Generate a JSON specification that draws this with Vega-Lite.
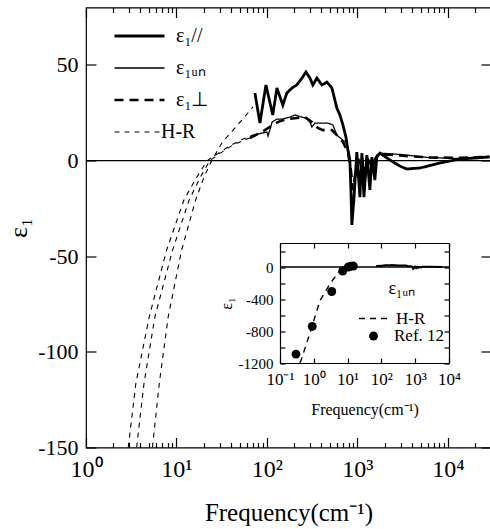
{
  "$schema": "https://vega.github.io/schema/vega-lite/v6.json",
  "width": 405,
  "height": 440,
  "autosize": {"type": "none"},
  "padding": {"left": 86, "top": 7.5, "right": 0, "bottom": 81.5},
  "background": "white",
  "config": {
    "font": "Liberation Serif",
    "view": {"stroke": "black", "strokeWidth": 1.2},
    "axis": {"grid": false, "domainColor": "black", "tickColor": "black", "labelColor": "black", "titleColor": "black", "labelFont": "Liberation Serif", "titleFont": "Liberation Serif", "titleFontWeight": "normal", "domainWidth": 1.2, "tickWidth": 1.2, "labelOverlap": false, "labelFlush": false},
    "legend": {"labelFont": "Liberation Serif", "labelColor": "black", "padding": 0}
  },
  "datasets": {
    "main": [
      {"s": "ε₁//", "c": "par", "f": 73.7, "e": 35.3},
      {"s": "ε₁//", "c": "par", "f": 83.7, "e": 19.6},
      {"s": "ε₁//", "c": "par", "f": 97.5, "e": 39.5},
      {"s": "ε₁//", "c": "par", "f": 116, "e": 23.8},
      {"s": "ε₁//", "c": "par", "f": 129, "e": 37.9},
      {"s": "ε₁//", "c": "par", "f": 150, "e": 29},
      {"s": "ε₁//", "c": "par", "f": 166, "e": 35.3},
      {"s": "ε₁//", "c": "par", "f": 189, "e": 37.9},
      {"s": "ε₁//", "c": "par", "f": 214, "e": 39.5},
      {"s": "ε₁//", "c": "par", "f": 244, "e": 43.1},
      {"s": "ε₁//", "c": "par", "f": 270, "e": 46.3},
      {"s": "ε₁//", "c": "par", "f": 299, "e": 43.1},
      {"s": "ε₁//", "c": "par", "f": 322, "e": 39.5},
      {"s": "ε₁//", "c": "par", "f": 357, "e": 43.1},
      {"s": "ε₁//", "c": "par", "f": 405, "e": 39.5},
      {"s": "ε₁//", "c": "par", "f": 460, "e": 41},
      {"s": "ε₁//", "c": "par", "f": 523, "e": 37.9},
      {"s": "ε₁//", "c": "par", "f": 564, "e": 31.6},
      {"s": "ε₁//", "c": "par", "f": 593, "e": 27.4},
      {"s": "ε₁//", "c": "par", "f": 641, "e": 23.8},
      {"s": "ε₁//", "c": "par", "f": 692, "e": 18.6},
      {"s": "ε₁//", "c": "par", "f": 747, "e": 12.3},
      {"s": "ε₁//", "c": "par", "f": 786, "e": 5.5},
      {"s": "ε₁//", "c": "par", "f": 826, "e": 0.3},
      {"s": "ε₁//", "c": "par", "f": 848, "e": -15.4},
      {"s": "ε₁//", "c": "par", "f": 869, "e": -33.7},
      {"s": "ε₁//", "c": "par", "f": 914, "e": -20.6},
      {"s": "ε₁//", "c": "par", "f": 986, "e": 4.4},
      {"s": "ε₁//", "c": "par", "f": 1066, "e": -19.1},
      {"s": "ε₁//", "c": "par", "f": 1122, "e": 3.9},
      {"s": "ε₁//", "c": "par", "f": 1181, "e": -19.1},
      {"s": "ε₁//", "c": "par", "f": 1274, "e": 2.9},
      {"s": "ε₁//", "c": "par", "f": 1375, "e": -15.4},
      {"s": "ε₁//", "c": "par", "f": 1445, "e": 1.8},
      {"s": "ε₁//", "c": "par", "f": 1560, "e": -10.2},
      {"s": "ε₁//", "c": "par", "f": 1641, "e": 1.8},
      {"s": "ε₁//", "c": "par", "f": 1774, "e": 3.9},
      {"s": "ε₁//", "c": "par", "f": 2290, "e": 0.3},
      {"s": "ε₁//", "c": "par", "f": 2950, "e": -2.9},
      {"s": "ε₁//", "c": "par", "f": 3520, "e": -4.4},
      {"s": "ε₁//", "c": "par", "f": 4900, "e": -3.9},
      {"s": "ε₁//", "c": "par", "f": 8130, "e": -1.3},
      {"s": "ε₁//", "c": "par", "f": 13580, "e": 0.8},
      {"s": "ε₁//", "c": "par", "f": 28800, "e": 1.8},

      {"s": "ε₁ᵤₙ", "c": "un", "f": 70, "e": 13.3},
      {"s": "ε₁ᵤₙ", "c": "un", "f": 100, "e": 14.9},
      {"s": "ε₁ᵤₙ", "c": "un", "f": 103, "e": 12.8},
      {"s": "ε₁ᵤₙ", "c": "un", "f": 114, "e": 20.1},
      {"s": "ε₁ᵤₙ", "c": "un", "f": 129, "e": 21.7},
      {"s": "ε₁ᵤₙ", "c": "un", "f": 150, "e": 21.7},
      {"s": "ε₁ᵤₙ", "c": "un", "f": 180, "e": 22.7},
      {"s": "ε₁ᵤₙ", "c": "un", "f": 204, "e": 23.8},
      {"s": "ε₁ᵤₙ", "c": "un", "f": 244, "e": 22.7},
      {"s": "ε₁ᵤₙ", "c": "un", "f": 277, "e": 22.2},
      {"s": "ε₁ᵤₙ", "c": "un", "f": 299, "e": 20.1},
      {"s": "ε₁ᵤₙ", "c": "un", "f": 314, "e": 17.5},
      {"s": "ε₁ᵤₙ", "c": "un", "f": 339, "e": 19.6},
      {"s": "ε₁ᵤₙ", "c": "un", "f": 472, "e": 19.6},
      {"s": "ε₁ᵤₙ", "c": "un", "f": 536, "e": 18.6},
      {"s": "ε₁ᵤₙ", "c": "un", "f": 593, "e": 13.3},
      {"s": "ε₁ᵤₙ", "c": "un", "f": 692, "e": 10.7},
      {"s": "ε₁ᵤₙ", "c": "un", "f": 747, "e": 9.7},
      {"s": "ε₁ᵤₙ", "c": "un", "f": 786, "e": 6.5},
      {"s": "ε₁ᵤₙ", "c": "un", "f": 826, "e": -2.4},
      {"s": "ε₁ᵤₙ", "c": "un", "f": 869, "e": -23.3},
      {"s": "ε₁ᵤₙ", "c": "un", "f": 938, "e": -12.8},
      {"s": "ε₁ᵤₙ", "c": "un", "f": 986, "e": 2.9},
      {"s": "ε₁ᵤₙ", "c": "un", "f": 1066, "e": -12.8},
      {"s": "ε₁ᵤₙ", "c": "un", "f": 1146, "e": 1.3},
      {"s": "ε₁ᵤₙ", "c": "un", "f": 1220, "e": -10.2},
      {"s": "ε₁ᵤₙ", "c": "un", "f": 1310, "e": 0.3},
      {"s": "ε₁ᵤₙ", "c": "un", "f": 1470, "e": -5},
      {"s": "ε₁ᵤₙ", "c": "un", "f": 1641, "e": 2.9},
      {"s": "ε₁ᵤₙ", "c": "un", "f": 1774, "e": 3.9},
      {"s": "ε₁ᵤₙ", "c": "un", "f": 2950, "e": 3.2},
      {"s": "ε₁ᵤₙ", "c": "un", "f": 6340, "e": 1.5},
      {"s": "ε₁ᵤₙ", "c": "un", "f": 13580, "e": 1.1},
      {"s": "ε₁ᵤₙ", "c": "un", "f": 28800, "e": 2.3},

      {"s": "ε₁⊥", "c": "perp", "f": 64.9, "e": 11.8},
      {"s": "ε₁⊥", "c": "perp", "f": 79.5, "e": 13.9},
      {"s": "ε₁⊥", "c": "perp", "f": 95, "e": 15.9},
      {"s": "ε₁⊥", "c": "perp", "f": 116, "e": 18.6},
      {"s": "ε₁⊥", "c": "perp", "f": 139, "e": 20.6},
      {"s": "ε₁⊥", "c": "perp", "f": 171, "e": 21.7},
      {"s": "ε₁⊥", "c": "perp", "f": 214, "e": 22.2},
      {"s": "ε₁⊥", "c": "perp", "f": 263, "e": 22.7},
      {"s": "ε₁⊥", "c": "perp", "f": 314, "e": 20.1},
      {"s": "ε₁⊥", "c": "perp", "f": 366, "e": 17},
      {"s": "ε₁⊥", "c": "perp", "f": 416, "e": 15.9},
      {"s": "ε₁⊥", "c": "perp", "f": 523, "e": 15.9},
      {"s": "ε₁⊥", "c": "perp", "f": 609, "e": 12.8},
      {"s": "ε₁⊥", "c": "perp", "f": 692, "e": 9.7},
      {"s": "ε₁⊥", "c": "perp", "f": 786, "e": 4.4},
      {"s": "ε₁⊥", "c": "perp", "f": 848, "e": -5},
      {"s": "ε₁⊥", "c": "perp", "f": 892, "e": -15.4},
      {"s": "ε₁⊥", "c": "perp", "f": 962, "e": -5},
      {"s": "ε₁⊥", "c": "perp", "f": 1042, "e": 2.3},
      {"s": "ε₁⊥", "c": "perp", "f": 1146, "e": -7.6},
      {"s": "ε₁⊥", "c": "perp", "f": 1274, "e": 1.3},
      {"s": "ε₁⊥", "c": "perp", "f": 1445, "e": -2.4},
      {"s": "ε₁⊥", "c": "perp", "f": 1641, "e": 2.3},
      {"s": "ε₁⊥", "c": "perp", "f": 1774, "e": 3.4},
      {"s": "ε₁⊥", "c": "perp", "f": 2950, "e": 2.6},
      {"s": "ε₁⊥", "c": "perp", "f": 6340, "e": 1.6},
      {"s": "ε₁⊥", "c": "perp", "f": 13580, "e": 1.4},
      {"s": "ε₁⊥", "c": "perp", "f": 28800, "e": 1.9},

      {"s": "H-R", "c": "hr1", "f": 2.93, "e": -150},
      {"s": "H-R", "c": "hr1", "f": 3.06, "e": -142.5},
      {"s": "H-R", "c": "hr1", "f": 3.56, "e": -116.4},
      {"s": "H-R", "c": "hr1", "f": 5.01, "e": -81.6},
      {"s": "H-R", "c": "hr1", "f": 7.78, "e": -46.8},
      {"s": "H-R", "c": "hr1", "f": 12.1, "e": -20.6},
      {"s": "H-R", "c": "hr1", "f": 16.6, "e": -9},
      {"s": "H-R", "c": "hr1", "f": 21.9, "e": 0},
      {"s": "H-R", "c": "hr1", "f": 29.5, "e": 4},
      {"s": "H-R", "c": "hr1", "f": 39.8, "e": 8},
      {"s": "H-R", "c": "hr1", "f": 56.2, "e": 11.5},
      {"s": "H-R", "c": "hr1", "f": 70, "e": 13.3},

      {"s": "H-R", "c": "hr2", "f": 3.63, "e": -150},
      {"s": "H-R", "c": "hr2", "f": 3.78, "e": -142.5},
      {"s": "H-R", "c": "hr2", "f": 4.38, "e": -116.4},
      {"s": "H-R", "c": "hr2", "f": 5.78, "e": -81.6},
      {"s": "H-R", "c": "hr2", "f": 9.06, "e": -46.8},
      {"s": "H-R", "c": "hr2", "f": 13.8, "e": -20.6},
      {"s": "H-R", "c": "hr2", "f": 18.2, "e": -9},
      {"s": "H-R", "c": "hr2", "f": 23.4, "e": 0},
      {"s": "H-R", "c": "hr2", "f": 30.9, "e": 4},
      {"s": "H-R", "c": "hr2", "f": 41.7, "e": 8},
      {"s": "H-R", "c": "hr2", "f": 57.5, "e": 11},
      {"s": "H-R", "c": "hr2", "f": 64.9, "e": 11.8},

      {"s": "H-R", "c": "hr3", "f": 5.42, "e": -150},
      {"s": "H-R", "c": "hr3", "f": 5.64, "e": -142.5},
      {"s": "H-R", "c": "hr3", "f": 6.46, "e": -116.4},
      {"s": "H-R", "c": "hr3", "f": 8.11, "e": -81.6},
      {"s": "H-R", "c": "hr3", "f": 11.4, "e": -46.8},
      {"s": "H-R", "c": "hr3", "f": 16.3, "e": -20.6},
      {"s": "H-R", "c": "hr3", "f": 20, "e": -9},
      {"s": "H-R", "c": "hr3", "f": 24.5, "e": 0},
      {"s": "H-R", "c": "hr3", "f": 32.4, "e": 9.8},
      {"s": "H-R", "c": "hr3", "f": 45.7, "e": 17.7},
      {"s": "H-R", "c": "hr3", "f": 58.9, "e": 23.8},
      {"s": "H-R", "c": "hr3", "f": 70, "e": 28}
    ],
    "insetHR": [
      {"s": "H-R", "f": 0.39, "e": -1200},
      {"s": "H-R", "f": 0.44, "e": -1142},
      {"s": "H-R", "f": 0.87, "e": -751},
      {"s": "H-R", "f": 1.52, "e": -421},
      {"s": "H-R", "f": 3.01, "e": -210},
      {"s": "H-R", "f": 5.3, "e": -70},
      {"s": "H-R", "f": 9.3, "e": -8},
      {"s": "H-R", "f": 14, "e": 0}
    ],
    "ref": [
      {"s": "Ref. 12", "f": 0.297, "e": -1089},
      {"s": "Ref. 12", "f": 0.9, "e": -743},
      {"s": "Ref. 12", "f": 3.39, "e": -306},
      {"s": "Ref. 12", "f": 7.16, "e": -50},
      {"s": "Ref. 12", "f": 10.5, "e": 0},
      {"s": "Ref. 12", "f": 12.5, "e": 10},
      {"s": "Ref. 12", "f": 14.8, "e": 12}
    ]
  },
  "layer": [
    {
      "layer": [
        {
          "data": {"values": [{}]},
          "mark": {"type": "rule", "color": "black", "strokeWidth": 1.2},
          "encoding": {
            "y": {"datum": 0, "type": "quantitative", "scale": {"domain": [-150, 80], "nice": false, "zero": false}}
          }
        },
        {
          "data": {"name": "main"},
          "mark": {"type": "line", "color": "black", "clip": true},
          "encoding": {
            "x": {"field": "f", "type": "quantitative",
              "scale": {"type": "log", "domain": [1, 30000], "nice": false},
              "axis": {"orient": "bottom", "domain": false, "ticks": false, "tickSize": 0,
                "values": [1, 10, 100, 1000, 10000],
                "labelExpr": "datum.value === 1 ? '10⁰' : datum.value === 10 ? '10¹' : datum.value === 100 ? '10²' : datum.value === 1000 ? '10³' : '10⁴'",
                "labelFont": "Liberation Serif", "labelFontSize": 24, "labelPadding": 10,
                "title": "Frequency(cm⁻¹)", "titleFontSize": 25, "titlePadding": 19}},
            "y": {"field": "e", "type": "quantitative",
              "scale": {"domain": [-150, 80], "nice": false, "zero": false},
              "axis": {"orient": "left", "domain": false, "ticks": false, "tickSize": 0, "values": [-150, -100, -50, 0, 50],
                "labelExpr": "'' + datum.value", "labelFont": "Liberation Serif", "labelFontSize": 22, "labelPadding": 8,
                "title": "ε₁", "titleFontSize": 26, "titlePadding": 6}},
            "detail": {"field": "c"},
            "strokeDash": {"field": "s", "type": "nominal",
              "scale": {"domain": ["ε₁//", "ε₁ᵤₙ", "ε₁⊥", "H-R"], "range": [[1, 0], [1, 0], [9, 6], [5, 5]]},
              "legend": {"orient": "none", "legendX": 27, "legendY": 15.5, "title": null, "symbolType": "stroke", "symbolSize": 2500, "symbolStrokeColor": "black", "labelFontSize": 20, "labelOffset": 10, "rowPadding": 6, "clipHeight": 26,
                "encoding": {
                  "symbols": {"strokeDash": {"value": {"expr": "datum.value === 'H-R' ? [7,5,7,5,7,300] : datum.value === 'ε₁⊥' ? [13,7] : [1,0]"}}},
                  "labels": {"dx": {"value": {"expr": "datum.value === 'H-R' ? -15 : 0"}}}
                }}},
            "strokeWidth": {"field": "s", "type": "nominal",
              "scale": {"type": "ordinal", "domain": ["ε₁//", "ε₁ᵤₙ", "ε₁⊥", "H-R"], "range": [2.8, 1.3, 2.6, 1.1]},
              "legend": {"orient": "none", "legendX": 27, "legendY": 15.5, "title": null, "symbolType": "stroke", "symbolSize": 2500, "symbolStrokeColor": "black", "labelFontSize": 20, "labelOffset": 10, "rowPadding": 6, "clipHeight": 26}}
          }
        }
      ]
    },
    {
      "data": {"values": [{}]},
      "mark": {"type": "point", "opacity": 0},
      "encoding": {
        "x": {"datum": 10, "type": "quantitative",
          "scale": {"type": "log", "domain": [1, 30000], "nice": false},
          "axis": {"orient": "top", "offset": -440, "domain": false, "labels": false, "title": null, "values": [1, 10, 100, 1000, 10000], "tickSize": 10}},
        "y": {"datum": 0, "type": "quantitative",
          "scale": {"domain": [-150, 80], "nice": false, "zero": false},
          "axis": {"orient": "right", "offset": -405, "domain": false, "labels": false, "title": null, "values": [-150, -100, -50, 0, 50], "tickSize": 10}}
      }
    },
    {
      "data": {"values": [{}]},
      "mark": {"type": "point", "opacity": 0},
      "encoding": {
        "x": {"datum": 10, "type": "quantitative",
          "scale": {"type": "log", "domain": [1, 30000], "nice": false},
          "axis": {"orient": "bottom", "offset": -440, "domain": false, "labels": false, "title": null, "values": [1, 10, 100, 1000, 10000], "tickSize": 10}},
        "y": {"datum": 0, "type": "quantitative",
          "scale": {"domain": [-150, 80], "nice": false, "zero": false},
          "axis": {"orient": "left", "offset": -405, "domain": false, "labels": false, "title": null, "values": [-150, -100, -50, 0, 50], "tickSize": 10}}
      }
    },
    {
      "data": {"values": [{}]},
      "mark": {"type": "point", "opacity": 0},
      "encoding": {
        "x": {"datum": 10, "type": "quantitative",
          "scale": {"type": "log", "domain": [1, 30000], "nice": false},
          "axis": {"orient": "top", "offset": -440, "domain": false, "labels": false, "title": null,
            "values": [2,3,4,5,6,7,8,9,20,30,40,50,60,70,80,90,200,300,400,500,600,700,800,900,2000,3000,4000,5000,6000,7000,8000,9000,20000,30000], "tickSize": 5}},
        "y": {"datum": 0, "type": "quantitative", "scale": {"domain": [-150, 80], "nice": false, "zero": false}, "axis": null}
      }
    },
    {
      "data": {"values": [{}]},
      "mark": {"type": "point", "opacity": 0},
      "encoding": {
        "x": {"datum": 10, "type": "quantitative",
          "scale": {"type": "log", "domain": [1, 30000], "nice": false},
          "axis": {"orient": "bottom", "offset": -440, "domain": false, "labels": false, "title": null,
            "values": [2,3,4,5,6,7,8,9,20,30,40,50,60,70,80,90,200,300,400,500,600,700,800,900,2000,3000,4000,5000,6000,7000,8000,9000,20000,30000], "tickSize": 5}},
        "y": {"datum": 0, "type": "quantitative", "scale": {"domain": [-150, 80], "nice": false, "zero": false}, "axis": null}
      }
    },
    {
      "layer": [
        {
          "data": {"values": [{}]},
          "mark": {"type": "rule", "color": "black", "strokeWidth": 1.3},
          "encoding": {
            "x": {"datum": 0.1, "type": "quantitative",
              "scale": {"type": "log", "domain": [0.1, 10000], "range": [194, 363], "nice": false},
              "axis": {"orient": "bottom", "offset": -84.5, "domain": true, "ticks": false, "tickSize": 0, "values": [0.1, 1, 10, 100, 1000, 10000],
                "labelExpr": "datum.value < 0.5 ? '10⁻¹' : datum.value === 1 ? '10⁰' : datum.value === 10 ? '10¹' : datum.value === 100 ? '10²' : datum.value === 1000 ? '10³' : '10⁴'",
                "labelFont": "Liberation Serif", "labelFontSize": 17, "labelPadding": 8, "title": "Frequency(cm⁻¹)", "titleFontSize": 16, "titlePadding": 14}},
            "x2": {"datum": 10000},
            "y": {"datum": 0, "type": "quantitative",
              "scale": {"domain": [-1200, 300], "range": [355.5, 235.5], "nice": false, "zero": false},
              "axis": {"orient": "left", "offset": -194, "domain": true, "ticks": false, "tickSize": 0, "values": [-1200, -800, -400, 0],
                "labelExpr": "'' + datum.value", "labelFont": "Liberation Serif",
                "labelFontSize": 15, "labelPadding": 7, "title": "ε₁", "titleFontSize": 16, "titlePadding": 4}}
          }
        },
        {
          "data": {"name": "main"},
          "transform": [{"filter": "datum.s === 'ε₁ᵤₙ' && datum.f <= 10000"}],
          "mark": {"type": "line", "color": "black", "strokeWidth": 2},
          "encoding": {
            "x": {"field": "f", "type": "quantitative", "scale": {"type": "log", "domain": [0.1, 10000], "range": [194, 363], "nice": false}},
            "y": {"field": "e", "type": "quantitative", "scale": {"domain": [-1200, 300], "range": [355.5, 235.5], "nice": false, "zero": false}}
          }
        },
        {
          "data": {"name": "insetHR"},
          "mark": {"type": "line", "color": "black", "strokeWidth": 1.4},
          "encoding": {
            "x": {"field": "f", "type": "quantitative", "scale": {"type": "log", "domain": [0.1, 10000], "range": [194, 363], "nice": false}},
            "y": {"field": "e", "type": "quantitative", "scale": {"domain": [-1200, 300], "range": [355.5, 235.5], "nice": false, "zero": false}},
            "strokeDash": {"field": "s", "type": "nominal", "scale": {"domain": ["H-R"], "range": [[6, 5]]},
              "legend": {"orient": "none", "legendX": 272, "legendY": 295, "title": null, "symbolType": "stroke", "symbolSize": 900, "symbolStrokeWidth": 1.4, "symbolStrokeColor": "black", "labelFontSize": 17, "labelOffset": 6}}
          }
        },
        {
          "data": {"name": "ref"},
          "mark": {"type": "point", "filled": true, "color": "black", "opacity": 1, "size": 80},
          "encoding": {
            "x": {"field": "f", "type": "quantitative", "scale": {"type": "log", "domain": [0.1, 10000], "range": [194, 363], "nice": false}},
            "y": {"field": "e", "type": "quantitative", "scale": {"domain": [-1200, 300], "range": [355.5, 235.5], "nice": false, "zero": false}},
            "shape": {"field": "s", "type": "nominal", "scale": {"domain": ["Ref. 12"], "range": ["circle"]},
              "legend": {"orient": "none", "legendX": 279, "legendY": 320, "title": null, "symbolSize": 80, "symbolFillColor": "black", "symbolStrokeColor": "black", "labelFontSize": 17, "labelOffset": 12}}
          }
        },
        {
          "data": {"values": [{}]},
          "mark": {"type": "text", "text": "ε₁ᵤₙ", "fontSize": 18, "align": "center", "baseline": "middle", "color": "black"},
          "encoding": {
            "x": {"datum": 400, "type": "quantitative", "scale": {"type": "log", "domain": [0.1, 10000], "range": [194, 363], "nice": false}},
            "y": {"datum": -280, "type": "quantitative", "scale": {"domain": [-1200, 300], "range": [355.5, 235.5], "nice": false, "zero": false}}
          }
        }
      ]
    },
    {
      "data": {"values": [{}]},
      "mark": {"type": "point", "opacity": 0},
      "encoding": {
        "x": {"datum": 1, "type": "quantitative",
          "scale": {"type": "log", "domain": [0.1, 10000], "range": [194, 363], "nice": false},
          "axis": {"orient": "top", "offset": -355.5, "domain": false, "labels": false, "title": null, "values": [0.1, 1, 10, 100, 1000, 10000], "tickSize": 5}},
        "y": {"datum": 0, "type": "quantitative",
          "scale": {"domain": [-1200, 300], "range": [355.5, 235.5], "nice": false, "zero": false},
          "axis": {"orient": "right", "offset": -211, "domain": false, "labels": false, "title": null, "values": [-1200, -1000, -800, -600, -400, -200, 0, 200], "tickSize": 5}}
      }
    },
    {
      "data": {"values": [{}]},
      "mark": {"type": "point", "opacity": 0},
      "encoding": {
        "x": {"datum": 1, "type": "quantitative",
          "scale": {"type": "log", "domain": [0.1, 10000], "range": [194, 363], "nice": false},
          "axis": {"orient": "bottom", "offset": -204.5, "domain": true, "labels": false, "title": null, "values": [0.1, 1, 10, 100, 1000, 10000], "tickSize": 5}},
        "y": {"datum": 0, "type": "quantitative",
          "scale": {"domain": [-1200, 300], "range": [355.5, 235.5], "nice": false, "zero": false},
          "axis": {"orient": "left", "offset": -363, "domain": true, "labels": false, "title": null, "values": [-1200, -1000, -800, -600, -400, -200, 0, 200], "tickSize": 5}}
      }
    }
  ],
  "resolve": {"scale": {"x": "independent", "y": "independent", "strokeDash": "independent", "strokeWidth": "independent", "shape": "independent"}}
}
